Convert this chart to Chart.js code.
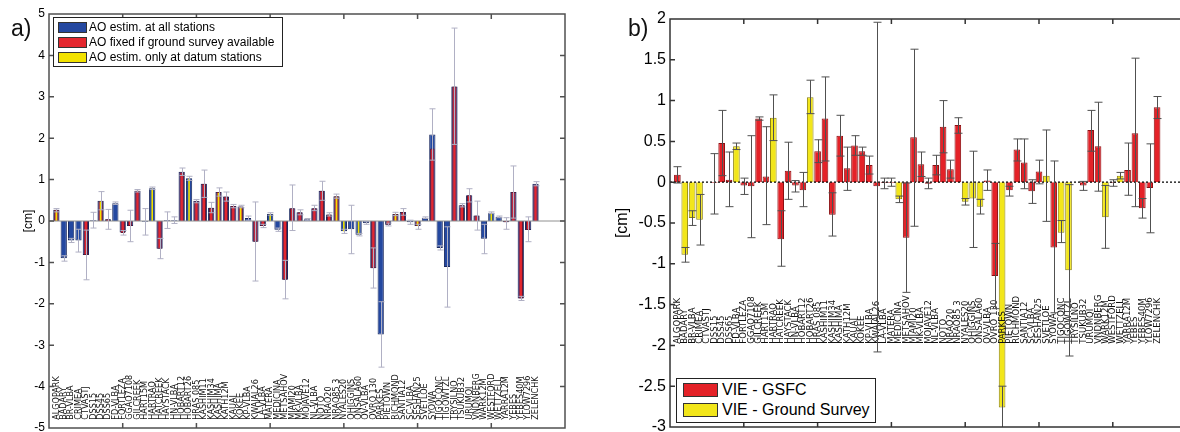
<!DOCTYPE html>
<html>
<head>
<meta charset="utf-8">
<script src="https://cdn.jsdelivr.net/npm/chart.js@4.4.0/dist/chart.umd.min.js"></script>
<style>
  body { margin: 0; width: 1180px; height: 432px; overflow: hidden; background: #fff; position: relative; font-family: "Liberation Sans", Arial, sans-serif; }
  .painel { position: absolute; }
  .rotulo { position: absolute; font-size: 23px; line-height: 23px; color: #111; }
  .legenda { position: absolute; border: 1px solid #222; background: #fff; box-sizing: border-box; }
  .legenda .sw { position: absolute; box-sizing: border-box; border: 1px solid #333; }
  .legenda .tx { position: absolute; white-space: nowrap; color: #000; }
</style>
</head>
<body>
<div class="painel" style="left:0;top:0;width:590px;height:432px"><canvas id="grafico_a" width="590" height="432"></canvas></div>
<div class="painel" style="left:590px;top:0;width:620px;height:432px"><canvas id="grafico_b" width="620" height="432"></canvas></div>
<div class="rotulo" style="left:11px;top:17px">a)</div>
<div class="rotulo" style="left:628px;top:17px">b)</div>

<div class="legenda" style="left:53px;top:17px;width:230px;height:50px;font-size:12px;line-height:14px">
  <div class="sw" style="left:4px;top:4px;width:29px;height:11px;background:#2448a0"></div>
  <div class="tx" style="left:35px;top:2px">AO estim. at all stations</div>
  <div class="sw" style="left:4px;top:19px;width:29px;height:11px;background:#e3262e"></div>
  <div class="tx" style="left:35px;top:17px">AO fixed if ground survey available</div>
  <div class="sw" style="left:4px;top:34px;width:29px;height:11px;background:#f2e200"></div>
  <div class="tx" style="left:35px;top:32px">AO estim. only at datum stations</div>
</div>

<div class="legenda" style="left:676px;top:378px;width:200px;height:45px;font-size:16px;line-height:18px">
  <div class="sw" style="left:6px;top:4px;width:35px;height:14px;background:#e42228"></div>
  <div class="tx" style="left:45px;top:2px">VIE - GSFC</div>
  <div class="sw" style="left:6px;top:24px;width:35px;height:14px;background:#f2e61a"></div>
  <div class="tx" style="left:45px;top:22px">VIE - Ground Survey</div>
</div>

<script>
const estacoes = ['ALGOPARK', 'BADARY', 'BR-VLBA', 'CRIMEA', 'CTVASTJ', 'DSS15', 'DSS45', 'DSS65', 'FD-VLBA', 'FORTLEZA',
  'GGAO7108', 'GILCREEK', 'HART15M', 'HARTRAO', 'HATCREEK', 'HAYSTACK', 'HN-VLBA', 'HOBART12', 'HOBART26', 'HRAS 085',
  'KASHIM11', 'KASHIM34', 'KASHIMA', 'KATH12M', 'KAUAI', 'KOKEE', 'KP-VLBA', 'KWAJAL26', 'LA-VLBA', 'MATERA',
  'MEDICINA', 'METSAHOV', 'MIAMI20', 'MK-VLBA', 'MOJAVE12', 'NL-VLBA', 'NOTO', 'NRAO20', 'NRAO85 3', 'NYALES20',
  'OHIGGINS', 'ONSALA60', 'OV-VLBA', 'OVRO 130', 'PARKES', 'PIETOWN', 'RICHMOND', 'SANTIA12', 'SC-VLBA', 'SESHAN25',
  'SVETLOE', 'SYOWA', 'TIGOCONC', 'TIGOWTZL', 'TRYSILNO', 'TSUKUB32', 'URUMQI', 'VNDNBERG', 'WARK12M', 'WESTFORD',
  'WETTZELL', 'YARRA12M', 'YEBES', 'YEBES40M', 'YLOW7296', 'ZELENCHK']

// painel a) [cm]
const aoTodas = [0.27, -0.9, -0.47, -0.47, -0.82, 0.02, 0.49, 0.04, 0.43, -0.28,
  -0.12, 0.73, -0.02, 0.79, -0.67, 0.02, 0.02, 1.19, 1.03, 0.49,
  0.9, 0.32, 0.7, 0.59, 0.36, 0.35, 0.07, -0.5, -0.12, 0.17,
  -0.21, -1.42, 0.31, 0.21, 0.04, 0.31, 0.73, 0.16, 0.6, -0.25,
  -0.2, -0.33, -0.05, -1.14, -2.74, -0.09, 0.17, 0.22, -0.03, -0.12,
  0.08, 2.09, -0.65, -1.11, 3.25, 0.38, 0.62, 0.13, -0.43, 0.2,
  0.1, -0.03, 0.7, -1.87, -0.22, 0.9]
const aoFixo = [0.27, null, null, null, -0.82, null, 0.48, 0.04, null, -0.29,
  -0.12, 0.73, null, null, -0.67, null, null, 1.18, null, 0.48,
  0.9, 0.32, 0.7, 0.59, 0.36, 0.35, null, -0.5, -0.12, null,
  null, -1.42, 0.31, 0.21, null, 0.31, 0.73, 0.16, 0.6, null,
  null, null, null, -1.14, null, -0.09, 0.17, 0.22, null, -0.12,
  null, 1.75, null, null, 3.25, 0.38, 0.62, 0.13, null, null,
  null, -0.03, 0.7, -1.87, -0.22, 0.88]
const aoDatum = [0.25, null, null, null, null, null, 0.47, null, null, null,
  null, null, null, 0.78, null, null, null, null, 1.02, null,
  null, null, 0.68, null, null, 0.33, null, null, null, 0.16,
  null, null, null, null, null, null, null, null, 0.59, -0.25,
  null, -0.32, null, null, null, null, 0.16, null, null, -0.11,
  null, null, null, null, null, null, null, null, null, 0.19,
  null, null, null, null, null, null]
const erroASup = [0.3, -0.84, -0.42, -0.2, -0.22, 0.21, 0.71, 0.28, 0.46, -0.23,
  0.26, 0.76, 0.3, 0.82, -0.42, 0.22, 0.1, 1.28, 1.08, 0.52,
  1.23, 0.45, 0.8, 0.7, 0.4, 0.38, 0.12, 0.46, -0.08, 0.2,
  -0.17, -0.95, 0.87, 0.27, 0.06, 0.38, 0.96, 0.2, 0.65, -0.2,
  0.38, -0.3, -0.02, -0.65, -1.95, -0.05, 0.21, 0.3, 0.02, -0.08,
  0.1, 2.71, -0.6, -0.14, 4.66, 0.42, 0.78, 0.48, -0.08, 0.22,
  0.12, 0.08, 1.33, -1.82, 0.1, 0.95]
const erroAInf = [0.22, -0.97, -0.52, -0.75, -1.42, -0.17, 0.27, -0.2, 0.4, -0.34,
  -0.5, 0.7, -0.34, 0.76, -0.91, -0.18, -0.06, 1.1, 0.98, 0.44,
  0.57, 0.2, 0.6, 0.48, 0.32, 0.32, 0.02, -1.45, -0.16, 0.14,
  -0.25, -1.88, -0.23, 0.15, 0.02, 0.25, 0.5, 0.12, 0.55, -0.3,
  -0.79, -0.36, -0.08, -1.62, -3.53, -0.12, 0.13, 0.14, -0.08, -0.2,
  0.06, 1.47, -0.7, -2.08, 1.85, 0.34, 0.46, -0.22, -0.79, 0.18,
  0.08, -0.2, 0.07, -1.92, -0.5, 0.85]

// painel b) [cm]
const vieGsfc = [0.09, null, null, null, null, -0.01, 0.48, 0.03, null, -0.04,
  -0.05, 0.78, 0.07, null, -0.7, 0.14, -0.04, -0.1, null, 0.38,
  0.78, -0.4, 0.57, 0.17, 0.45, 0.38, 0.21, -0.05, -0.01, -0.01,
  null, -0.68, 0.55, 0.22, -0.02, 0.21, 0.68, 0.16, 0.7, null,
  null, null, 0.02, -1.15, null, -0.1, 0.4, 0.24, -0.11, 0.13,
  null, -0.8, null, null, null, -0.04, 0.64, 0.44, null, -0.01,
  null, 0.15, 0.6, -0.32, -0.07, 0.92]
const vieGround = [null, -0.89, -0.44, -0.46, null, null, null, null, 0.44, null,
  null, null, null, 0.79, null, null, null, null, 1.04, null,
  null, null, null, null, null, null, null, null, null, null,
  -0.21, null, null, null, null, null, null, null, null, -0.24,
  -0.2, -0.3, null, null, -2.76, null, null, null, null, null,
  0.08, null, -0.62, -1.08, null, null, null, null, -0.43, null,
  0.08, null, null, null, null, null]
const erroBSup = [0.19, -0.8, -0.35, -0.15, null, 0.35, 0.88, 0.37, 0.48, 0.05,
  0.57, 0.8, 0.68, 1.07, -0.35, 0.49, 0.02, 0.12, 1.25, 0.52,
  1.29, -0.13, 0.82, 0.43, 0.57, 0.43, 0.32, 1.96, 0.05, 0.05,
  -0.17, -0.01, 1.63, 0.37, 0.05, 0.33, 1.0, 0.27, 0.79, -0.2,
  0.38, -0.21, 0.15, -0.75, -2.5, -0.05, 0.53, 0.53, 0.03, 0.27,
  0.64, 0.26, -0.47, -0.03, null, 0.01, 0.88, 0.98, -0.04, 0.03,
  0.12, 0.48, 1.52, -0.2, 0.47, 1.05]
const erroBInf = [-0.01, -0.98, -0.53, -0.77, null, -0.39, 0.08, -0.3, 0.4, -0.15,
  -0.68, 0.76, -0.52, 0.51, -1.03, -0.21, -0.12, -0.3, 0.84, 0.24,
  0.26, -0.66, 0.32, -0.1, 0.33, 0.33, 0.1, -2.08, -0.08, -0.05,
  -0.25, -1.35, -0.54, 0.07, -0.08, 0.09, 0.36, 0.05, 0.6, -0.28,
  -0.8, -0.39, -0.1, -1.55, -3.2, -0.17, 0.26, -0.08, -0.26, -0.02,
  -0.48, -1.6, -0.74, -2.13, null, -0.1, 0.38, -0.11, -0.81, -0.05,
  0.04, -0.16, -0.3, -0.44, -0.62, 0.78]

const fonte = '"Liberation Sans", Arial, sans-serif'
const fonteNomes = '"Liberation Sans Narrow", "DejaVu Sans Condensed", sans-serif'

const pontos = (valores) => valores.map((v, i) => ({ x: i + 1, y: v }))

// nomes, barras de erro, linha do zero e moldura com marcas para dentro
const criarExtras = (cfg) => ({
  id: 'extras',
  afterDatasetsDraw(chart) {
    const { ctx, chartArea: area, scales: { x, y } } = chart
    const y0 = y.getPixelForValue(0)
    ctx.save()
    ctx.beginPath()
    ctx.rect(area.left, area.top, area.width, area.height)
    ctx.clip()

    ctx.strokeStyle = cfg.zeroCor
    ctx.lineWidth = cfg.zeroLargura
    ctx.setLineDash(cfg.zeroTraco)
    ctx.beginPath()
    ctx.moveTo(area.left, y0)
    ctx.lineTo(area.right, y0)
    ctx.stroke()
    ctx.setLineDash([])

    ctx.fillStyle = '#111'
    ctx.font = cfg.fonteNomes
    ctx.textAlign = 'left'
    ctx.textBaseline = 'middle'
    const base = y.getPixelForValue(cfg.baseNomes)
    estacoes.forEach((nome, i) => {
      ctx.save()
      ctx.translate(x.getPixelForValue(i + 1), base)
      ctx.rotate(-Math.PI / 2)
      ctx.fillText(nome, 0, 0)
      ctx.restore()
    })

    ctx.strokeStyle = cfg.erroCor
    ctx.lineWidth = 1
    const h = cfg.capa / 2
    cfg.sup.forEach((s, i) => {
      const inf = cfg.inf[i]
      if (s === null || inf === null) return
      const px = Math.round(x.getPixelForValue(i + 1)) + 0.5
      const pS = y.getPixelForValue(s)
      const pI = y.getPixelForValue(inf)
      ctx.beginPath()
      ctx.moveTo(px, pS); ctx.lineTo(px, pI)
      ctx.moveTo(px - h, pS); ctx.lineTo(px + h, pS)
      ctx.moveTo(px - h, pI); ctx.lineTo(px + h, pI)
      ctx.stroke()
    })
    ctx.restore()

    ctx.save()
    ctx.strokeStyle = cfg.moldura
    ctx.lineWidth = 1.5
    ctx.strokeRect(area.left, area.top, area.width, area.height)
    ctx.beginPath()
    x.ticks.forEach(t => {
      if (t.value <= x.min || t.value >= x.max) return
      const px = x.getPixelForValue(t.value)
      ctx.moveTo(px, area.top); ctx.lineTo(px, area.top + 5)
      ctx.moveTo(px, area.bottom); ctx.lineTo(px, area.bottom - 5)
    })
    y.ticks.forEach(t => {
      if (t.value <= y.min || t.value >= y.max) return
      const py = y.getPixelForValue(t.value)
      ctx.moveTo(area.left, py); ctx.lineTo(area.left + 5, py)
      ctx.moveTo(area.right, py); ctx.lineTo(area.right - 5, py)
    })
    ctx.stroke()
    ctx.restore()
  }
})

const eixos = (yMin, yMax, passo, larguraY, tamTicks, tamTitulo, padTitulo) => ({
  x: {
    type: 'linear', min: 0, max: 70, offset: false,
    ticks: { display: false, stepSize: 10 },
    grid: { display: false, drawTicks: false },
    border: { display: false },
    afterFit: (s) => { s.height = 0; s.paddingLeft = 0; s.paddingRight = 0 }
  },
  y: {
    min: yMin, max: yMax,
    ticks: {
      stepSize: passo, padding: 4, color: '#000', font: { family: fonte, size: tamTicks },
      callback: (v) => String(Number(v.toFixed(2)))
    },
    grid: { display: false, drawTicks: false },
    border: { display: false },
    title: { display: true, text: '[cm]', color: '#000', font: { family: fonte, size: tamTitulo }, padding: { top: padTitulo, bottom: 0 } },
    afterFit: (s) => { s.width = larguraY; s.paddingTop = 0; s.paddingBottom = 0 }
  }
})

const criarGraficoA = () => {
  new Chart(document.querySelector('#grafico_a'), {
    type: 'bar',
    data: {
      datasets: [
        { label: 'AO estim. at all stations', data: pontos(aoTodas), backgroundColor: '#2448a0', borderColor: '#18285e', borderWidth: 1, barPercentage: 0.85, categoryPercentage: 1, grouped: false, order: 3 },
        { label: 'AO fixed if ground survey available', data: pontos(aoFixo), backgroundColor: '#e3262e', borderColor: '#6a1630', borderWidth: 1, barPercentage: 0.6, categoryPercentage: 1, grouped: false, order: 2 },
        { label: 'AO estim. only at datum stations', data: pontos(aoDatum), backgroundColor: '#f2e200', borderWidth: 0, barPercentage: 0.22, categoryPercentage: 1, grouped: false, order: 1 }
      ]
    },
    options: {
      responsive: false, animation: false, devicePixelRatio: 1,
      layout: { padding: { left: 0, top: 14, right: 25, bottom: 4 } },
      plugins: { legend: { display: false }, tooltip: { enabled: false } },
      scales: eixos(-5, 5, 1, 49, 12, 12, 21.5)
    },
    plugins: [criarExtras({
      sup: erroASup, inf: erroAInf, erroCor: '#b0b0c4', capa: 6,
      zeroCor: '#909090', zeroLargura: 1, zeroTraco: [],
      fonteNomes: '9px ' + fonteNomes, baseNomes: -4.8, moldura: '#505050'
    })]
  })
}

const criarGraficoB = () => {
  new Chart(document.querySelector('#grafico_b'), {
    type: 'bar',
    data: {
      datasets: [
        { label: 'VIE - GSFC', data: pontos(vieGsfc), backgroundColor: '#e42228', borderColor: '#8b0f12', borderWidth: 1, barPercentage: 0.9, categoryPercentage: 1, grouped: false, order: 1 },
        { label: 'VIE - Ground Survey', data: pontos(vieGround), backgroundColor: '#f2e61a', borderColor: '#8f8410', borderWidth: 1, barPercentage: 0.9, categoryPercentage: 1, grouped: false, order: 2 }
      ]
    },
    options: {
      responsive: false, animation: false, devicePixelRatio: 1,
      layout: { padding: { left: 0, top: 19, right: 23.4, bottom: 5 } },
      plugins: { legend: { display: false }, tooltip: { enabled: false } },
      scales: eixos(-3, 2, 0.5, 80, 16, 16, 23)
    },
    plugins: [criarExtras({
      sup: erroBSup, inf: erroBInf, erroCor: '#505050', capa: 8,
      zeroCor: '#000', zeroLargura: 1.2, zeroTraco: [2, 2],
      fonteNomes: '9.5px ' + fonteNomes, baseNomes: -1.98, moldura: '#333'
    })]
  })
}

criarGraficoA()
criarGraficoB()
</script>
</body>
</html>
